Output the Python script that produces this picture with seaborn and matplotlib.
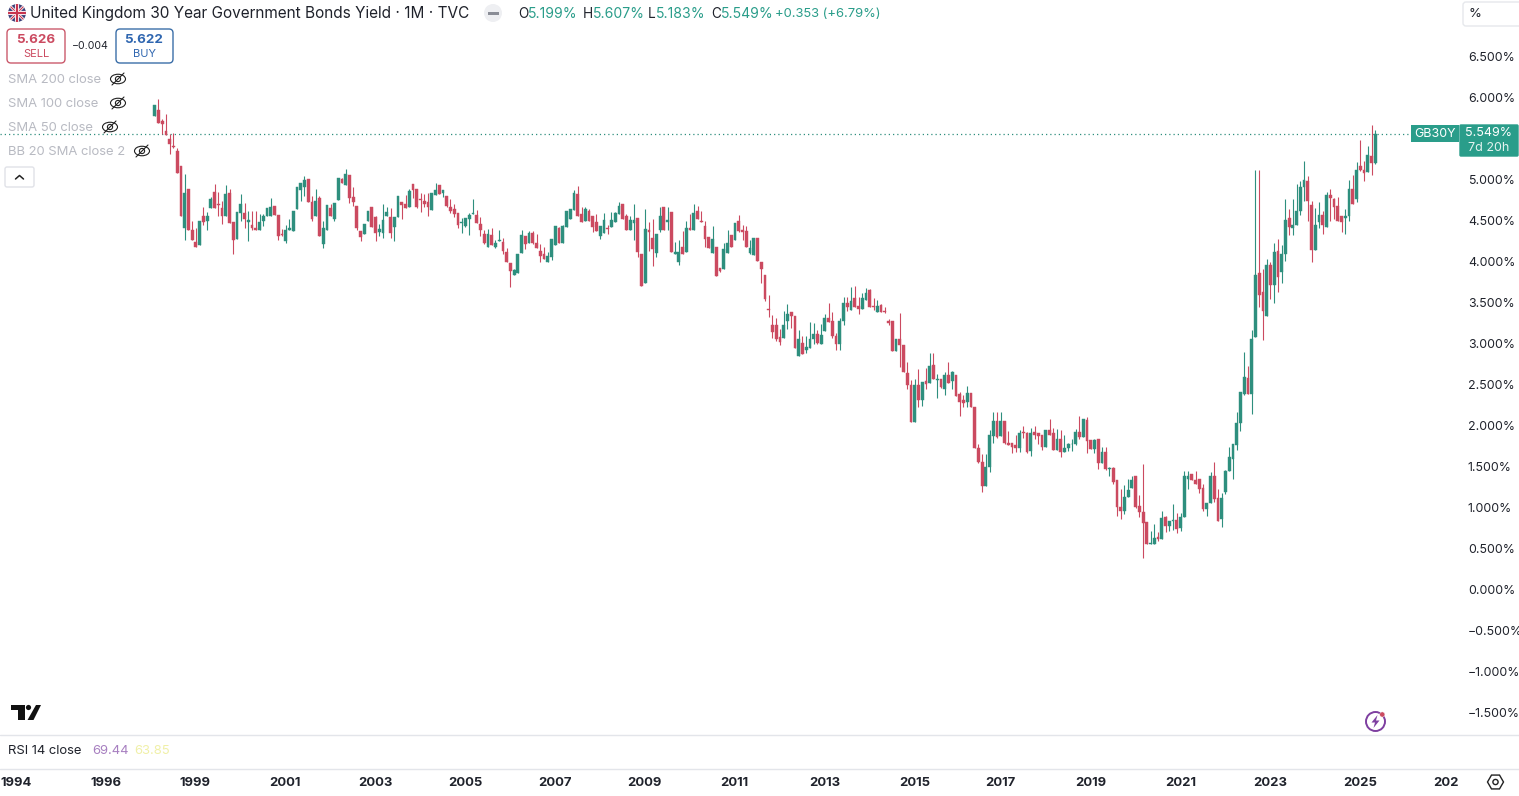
import numpy as np
import pandas as pd
import seaborn as sns
import matplotlib
matplotlib.use("Agg")
import matplotlib.pyplot as plt
from matplotlib.patches import Circle, FancyBboxPatch, Rectangle, Polygon, Ellipse, RegularPolygon
from matplotlib.transforms import ScaledTranslation

opens = [
5.78,5.85,5.71,5.59,5.50,5.41,5.35,5.17,4.41,4.89,
4.38,4.24,4.20,4.55,4.50,4.65,4.85,4.70,4.65,4.55,
4.84,4.48,4.28,4.59,4.59,4.48,4.45,4.41,4.39,4.49,
4.55,4.56,4.68,4.57,4.33,4.25,4.38,4.37,4.64,4.87,
4.91,5.01,4.72,4.55,4.77,4.21,4.39,4.65,4.52,4.75,
5.01,4.93,5.05,4.79,4.68,4.37,4.34,4.49,4.66,4.54,
4.36,4.35,4.55,4.54,4.42,4.54,4.72,4.70,4.66,4.94,
4.88,4.76,4.74,4.73,4.63,4.81,4.93,4.83,4.80,4.67,
4.64,4.59,4.47,4.43,4.52,4.58,4.57,4.46,4.33,4.18,
4.32,4.18,4.25,4.24,4.12,3.98,3.84,3.86,4.10,4.31,
4.23,4.35,4.23,4.13,4.09,3.99,4.05,4.20,4.41,4.23,
4.42,4.52,4.63,4.82,4.58,4.50,4.61,4.55,4.48,4.31,
4.35,4.41,4.42,4.48,4.58,4.70,4.56,4.38,4.47,4.53,
4.09,3.74,4.39,4.29,4.10,4.38,4.66,4.48,4.60,4.09,
4.00,4.18,4.11,4.41,4.39,4.62,4.49,4.43,4.30,4.10,
4.18,3.92,3.91,4.10,4.32,4.26,4.49,4.38,4.37,4.10,
4.08,4.29,4.00,3.84,3.42,3.22,3.23,3.08,3.07,3.27,
3.39,3.33,2.85,3.01,2.92,2.95,3.05,3.11,3.00,3.15,
3.31,3.28,3.09,3.00,3.27,3.50,3.41,3.55,3.46,3.42,
3.53,3.65,3.46,3.39,3.47,3.40,3.28,3.27,2.91,3.06,
2.98,2.64,2.50,2.04,2.50,2.31,2.54,2.52,2.74,2.56,
2.57,2.45,2.62,2.54,2.61,2.38,2.31,2.29,2.40,2.23,
1.72,1.55,1.26,1.49,1.87,2.05,1.87,2.05,1.79,1.79,
1.76,1.72,1.92,1.91,1.69,1.92,1.91,1.88,1.74,1.94,
1.91,1.70,1.83,1.68,1.72,1.77,1.77,1.92,1.86,2.07,
1.82,1.71,1.83,1.54,1.68,1.47,1.48,1.33,1.01,0.96,
1.13,1.24,1.38,1.02,0.95,0.82,0.56,0.56,0.64,0.61,
0.88,0.78,0.84,0.85,0.75,0.88,1.35,1.41,1.34,1.35,
1.24,0.98,1.05,1.39,1.12,0.86,1.19,1.44,1.59,1.76,
2.03,2.39,2.58,2.39,3.08,3.86,3.63,3.33,3.96,3.71,
4.13,3.87,4.09,4.53,4.41,4.44,4.62,4.91,4.98,4.69,
4.14,4.48,4.57,4.42,4.81,4.76,4.68,4.56,4.53,4.56,
4.88,4.76,5.16,5.11,5.09,5.29,5.199]
highs = [
5.91,5.98,5.74,5.80,5.56,5.57,5.39,5.17,5.07,4.89,
4.49,4.41,4.49,4.67,4.60,4.79,4.94,4.85,4.74,4.93,
4.88,4.48,4.60,4.82,4.71,4.62,4.61,4.62,4.58,4.58,
4.65,4.78,4.68,4.57,4.40,4.45,4.52,4.62,4.91,4.96,
5.04,5.01,4.80,4.88,4.80,4.49,4.69,4.70,4.71,5.02,
5.02,5.13,5.05,4.91,4.68,4.37,4.46,4.62,4.66,4.56,
4.46,4.70,4.67,4.65,4.54,4.80,4.72,4.81,4.89,4.94,
4.88,4.83,4.82,4.83,4.84,4.96,4.93,4.87,4.80,4.76,
4.70,4.59,4.53,4.53,4.59,4.76,4.63,4.54,4.38,4.40,
4.41,4.26,4.38,4.29,4.17,3.98,3.91,4.09,4.38,4.31,
4.37,4.37,4.33,4.21,4.18,4.11,4.27,4.43,4.42,4.44,
4.61,4.64,4.87,4.92,4.66,4.66,4.64,4.55,4.58,4.43,
4.59,4.44,4.60,4.60,4.72,4.70,4.58,4.56,4.70,4.53,
4.09,4.64,4.48,4.52,4.33,4.66,4.67,4.67,4.60,4.24,
4.26,4.37,4.50,4.58,4.70,4.68,4.62,4.50,4.30,4.43,
4.18,3.92,4.22,4.38,4.32,4.47,4.57,4.44,4.43,4.26,
4.29,4.29,4.00,3.84,3.59,3.35,3.31,3.18,3.40,3.48,
3.39,3.33,3.16,3.09,3.09,3.26,3.25,3.17,3.24,3.36,
3.50,3.38,3.13,3.31,3.57,3.57,3.69,3.70,3.57,3.61,
3.68,3.67,3.55,3.53,3.48,3.44,3.30,3.27,3.06,3.37,
2.98,2.77,2.55,2.57,2.69,2.53,2.70,2.89,2.89,2.63,
2.57,2.65,2.77,2.66,2.61,2.41,2.37,2.48,2.40,2.23,
1.77,1.65,1.65,1.94,2.16,2.16,2.16,2.05,1.93,1.79,
1.88,1.94,2.00,1.92,1.97,2.00,1.91,1.88,1.94,2.08,
1.97,1.96,1.94,1.89,1.79,1.83,1.96,2.11,2.08,2.10,
1.82,1.83,1.83,1.74,1.74,1.50,1.50,1.33,1.23,1.28,
1.35,1.39,1.38,1.15,1.53,0.82,0.71,0.80,0.70,0.96,
0.90,0.83,1.04,0.93,0.93,1.45,1.45,1.41,1.45,1.35,
1.29,1.05,1.43,1.56,1.22,1.18,1.46,1.74,1.77,2.16,
2.41,2.90,2.72,3.17,5.12,5.11,3.91,4.03,4.00,4.22,
4.28,4.20,4.76,4.64,4.76,4.95,4.98,5.22,5.04,4.74,
4.65,4.72,4.62,4.85,4.89,4.78,4.79,4.56,4.64,4.99,
5.06,5.21,5.48,5.23,5.41,5.66,5.607]
lows = [
5.78,5.69,5.56,5.54,5.31,5.39,5.08,4.55,4.26,4.39,
4.26,4.18,4.20,4.44,4.39,4.65,4.65,4.55,4.46,4.55,
4.47,4.09,4.28,4.50,4.41,4.25,4.39,4.39,4.39,4.43,
4.55,4.56,4.57,4.26,4.31,4.22,4.38,4.37,4.64,4.74,
4.80,4.72,4.49,4.55,4.31,4.17,4.39,4.55,4.49,4.75,
4.96,4.93,4.71,4.68,4.39,4.25,4.33,4.49,4.42,4.25,
4.31,4.29,4.55,4.29,4.25,4.54,4.52,4.65,4.66,4.78,
4.65,4.60,4.66,4.56,4.63,4.81,4.82,4.79,4.66,4.59,
4.54,4.41,4.35,4.42,4.32,4.58,4.47,4.31,4.21,4.18,
4.20,4.16,4.25,4.09,4.00,3.69,3.83,3.86,4.10,4.15,
4.22,4.21,4.17,3.99,4.03,3.99,4.02,4.20,4.23,4.22,
4.42,4.52,4.63,4.55,4.48,4.50,4.50,4.36,4.37,4.28,
4.35,4.33,4.42,4.48,4.58,4.52,4.39,4.38,4.26,4.05,
3.70,3.74,4.13,3.94,4.05,4.36,4.38,4.38,4.11,4.09,
3.96,4.09,4.11,4.39,4.39,4.52,4.48,4.18,4.17,4.10,
3.82,3.87,3.91,4.10,4.18,4.26,4.36,4.26,4.18,4.09,
4.08,4.01,3.74,3.52,3.32,3.07,3.03,2.98,3.07,3.18,
3.19,2.94,2.85,2.87,2.88,2.95,3.00,3.00,3.00,3.15,
3.26,3.07,2.92,2.92,3.22,3.40,3.41,3.45,3.36,3.42,
3.53,3.44,3.41,3.39,3.38,3.37,3.23,2.91,2.91,2.71,
2.65,2.44,2.04,2.04,2.22,2.24,2.44,2.52,2.57,2.33,
2.46,2.37,2.52,2.44,2.36,2.12,2.23,2.22,2.22,1.72,
1.54,1.19,1.26,1.43,1.79,1.85,1.87,1.77,1.76,1.66,
1.68,1.68,1.85,1.66,1.63,1.84,1.78,1.70,1.74,1.89,
1.70,1.70,1.61,1.68,1.69,1.69,1.76,1.84,1.86,1.66,
1.71,1.66,1.47,1.54,1.46,1.39,1.29,0.90,0.86,0.92,
1.13,1.24,1.00,0.88,0.39,0.55,0.55,0.55,0.59,0.61,
0.70,0.71,0.73,0.69,0.71,0.88,1.22,1.33,1.29,1.18,
0.96,0.90,1.05,1.07,0.83,0.76,1.17,1.44,1.35,1.70,
1.93,2.37,2.39,2.14,3.08,3.44,3.04,3.33,3.54,3.50,
3.63,3.74,4.01,4.32,4.32,4.44,4.57,4.74,4.49,4.00,
4.14,4.41,4.33,4.42,4.49,4.52,4.49,4.36,4.33,4.49,
4.70,4.72,5.10,4.98,5.09,5.05,5.183]
closes = [
5.91,5.69,5.68,5.54,5.43,5.40,5.08,4.55,4.83,4.39,
4.26,4.18,4.49,4.48,4.55,4.76,4.65,4.69,4.55,4.82,
4.47,4.26,4.60,4.70,4.52,4.51,4.41,4.39,4.48,4.55,
4.65,4.67,4.57,4.31,4.32,4.39,4.41,4.62,4.91,4.96,
5.00,4.72,4.52,4.74,4.31,4.41,4.69,4.55,4.71,5.02,
4.96,5.07,4.77,4.73,4.41,4.30,4.46,4.62,4.42,4.35,
4.40,4.51,4.60,4.35,4.54,4.80,4.69,4.65,4.86,4.87,
4.67,4.75,4.70,4.66,4.84,4.87,4.82,4.87,4.68,4.62,
4.58,4.45,4.48,4.53,4.57,4.59,4.47,4.38,4.23,4.34,
4.20,4.22,4.26,4.13,4.00,3.88,3.90,4.09,4.32,4.21,
4.35,4.22,4.17,4.07,4.03,4.07,4.27,4.43,4.23,4.43,
4.61,4.64,4.83,4.55,4.48,4.64,4.50,4.42,4.37,4.43,
4.51,4.40,4.51,4.59,4.68,4.52,4.39,4.51,4.51,4.12,
3.70,4.40,4.36,4.15,4.33,4.55,4.38,4.51,4.11,4.12,
4.11,4.09,4.41,4.39,4.59,4.52,4.48,4.27,4.17,4.28,
3.82,3.89,4.15,4.22,4.18,4.47,4.37,4.36,4.18,4.16,
4.29,4.01,3.91,3.54,3.41,3.14,3.05,3.02,3.23,3.36,
3.33,2.94,3.05,2.87,2.96,3.05,3.11,3.01,3.10,3.31,
3.26,3.09,3.00,3.27,3.50,3.45,3.52,3.45,3.42,3.55,
3.61,3.45,3.45,3.46,3.39,3.38,3.25,2.91,3.06,2.98,
2.65,2.50,2.04,2.49,2.31,2.53,2.51,2.72,2.57,2.57,
2.47,2.61,2.52,2.65,2.36,2.29,2.27,2.40,2.22,1.72,
1.55,1.26,1.50,1.88,2.05,1.86,2.05,1.79,1.76,1.74,
1.72,1.91,1.91,1.68,1.91,1.89,1.87,1.74,1.94,1.89,
1.70,1.83,1.68,1.73,1.77,1.78,1.92,1.86,2.08,1.81,
1.71,1.82,1.54,1.68,1.47,1.48,1.31,1.01,0.96,1.13,
1.21,1.33,1.01,0.94,0.81,0.55,0.57,0.63,0.62,0.87,
0.77,0.83,0.85,0.74,0.89,1.39,1.39,1.34,1.29,1.23,
0.98,1.05,1.38,1.10,0.84,1.12,1.45,1.61,1.77,2.03,
2.41,2.59,2.39,3.06,3.83,3.59,3.40,3.96,3.71,4.11,
3.81,4.09,4.51,4.42,4.45,4.61,4.91,4.99,4.74,4.14,
4.45,4.57,4.44,4.81,4.77,4.66,4.49,4.48,4.55,4.88,
4.70,5.12,5.11,5.08,5.30,5.20,5.549]

price_ticks = [6.5,6.0,5.0,4.5,4.0,3.5,3.0,2.5,2.0,1.5,1.0,0.5,0.0,-0.5,-1.0,-1.5]
year_labels = ["1994","1996","1999","2001","2003","2005","2007","2009","2011",
               "2013","2015","2017","2019","2021","2023","2025","202"]
year_pos = [-37.1,-13.0,10.8,34.8,58.9,82.9,106.9,130.9,154.9,
            179.0,203.0,226.0,250.0,274.0,298.0,322.0,344.9]

GREEN = "#2E8F7E"; RED = "#CB4A60"; BOX = "#2A9D8A"; INK = "#1F222B"; GREY = "#B8BAC2"; LINE = "#E3E5EA"

sns.set_theme(style="white")
plt.rcParams["font.family"] = ["Inter", "DejaVu Sans"]

W, H = 1519, 796
fig = plt.figure(figsize=(W/100, H/100), dpi=100, facecolor="white")
SPLIT = 734
ax = fig.add_axes([0, 1-SPLIT/H, 1459/W, SPLIT/H])
ax2 = fig.add_axes([0, 28/H, 1459/W, 34/H])

df = pd.DataFrame(dict(i=np.arange(len(closes)), o=opens, h=highs, l=lows, c=closes))
df["up"] = df.c >= df.o
up = df[df.up]; dn = df[~df.up]

ax.vlines(up.i, up.l, up.h, color=GREEN, lw=0.8, zorder=2)
ax.vlines(dn.i, dn.l, dn.h, color=RED, lw=0.8, zorder=2)
sns.barplot(x=up.i.values, y=(up.c-up.o).values, bottom=up.o.values, native_scale=True, ax=ax,
            color=GREEN, saturation=1, width=0.74, errorbar=None, edgecolor=GREEN, linewidth=0.3, zorder=3)
sns.barplot(x=dn.i.values, y=(dn.o-dn.c).values, bottom=dn.c.values, native_scale=True, ax=ax,
            color=RED, saturation=1, width=0.74, errorbar=None, edgecolor=RED, linewidth=0.3, zorder=3)

PX = 3.744; X0 = 154.7
ax.set_xlim((0-X0)/PX, (1459-X0)/PX)
ax.set_ylim((589.5-734)/82, 589.5/82)
ax.axhline(closes[-1], xmin=0, xmax=1411/1459, color="#2E8F7E", lw=0.9, ls=(0, (1, 2.4)), zorder=1)

ax.yaxis.tick_right()
ax.set_yticks(price_ticks)
ax.set_yticklabels([(f"{v:.3f}%" if v >= 0 else "\u2212" + f"{-v:.3f}%") for v in price_ticks],
                   fontsize=8.9, color=INK)
ax.tick_params(axis="y", length=0, pad=6.4)
ax.tick_params(axis="x", length=0, labelbottom=False)
ax.set_xlabel(""); ax.set_ylabel("")
sns.despine(ax=ax, left=True, right=True, top=True, bottom=True)
for lab in ax.get_yticklabels():
    lab.set_clip_on(False)

ax2.set_xlim(ax.get_xlim()); ax2.set_ylim(0, 1)
ax2.set_yticks([])
ax2.set_xticks(year_pos); ax2.set_xticklabels(year_labels, fontsize=9.4, fontweight="bold", color=INK)
ax2.tick_params(axis="x", length=0, pad=6.8)
sns.despine(ax=ax2, left=True, right=True, top=True, bottom=True)

# page chrome drawn in a pixel overlay
ov = fig.add_axes([0, 0, 1, 1], facecolor="none", zorder=5)
ov.set_xlim(0, W); ov.set_ylim(H, 0); ov.axis("off")

def T(x, y, s, size=9.4, color=INK, ha="left", weight="normal", **k):
    ov.text(x, y + 1.2, s, fontsize=size, color=color, ha=ha, va="center", fontweight=weight, **k)

ov.plot([0, W], [734.5, 734.5], color=LINE, lw=1)
ov.plot([0, W], [768.5, 768.5], color=LINE, lw=1)

# flag
flag = Circle((17, 13), 9, fc="#3A3F78", ec="none"); ov.add_patch(flag)
for (a, b, c, d, col, lw) in [(8,4,26,22,"white",2),(8,22,26,4,"white",2),(8,4,26,22,"#C8354F",0.8),(8,22,26,4,"#C8354F",0.8),
                              (17,4,17,22,"white",3),(8,13,26,13,"white",3),(17,4,17,22,"#C8354F",1.6),(8,13,26,13,"#C8354F",1.6)]:
    l, = ov.plot([a, c], [b, d], color=col, lw=lw, solid_capstyle="butt"); l.set_clip_path(flag)

T(30, 12.5, "United Kingdom 30 Year Government Bonds Yield \u00b7 1M \u00b7 TVC", size=11.05)
ov.add_patch(Circle((493, 13), 9, fc="#EEEFF2", ec="none"))
ov.add_patch(Rectangle((487.5, 11.5), 11, 3, fc="#8A8D96", ec="none"))
for x, s, col, fs in [(518,"O",INK,9.8),(528,"5.199%",BOX,10.1),(583,"H",INK,9.8),(593,"5.607%",BOX,10.1),(648,"L",INK,9.8),
                      (656,"5.183%",BOX,10.1),(711,"C",INK,9.8),(721,"5.549%",BOX,10.1),(775,"+0.353 (+6.79%)",BOX,9.3)]:
    T(x, 12.5, s, size=fs, color=col)

def box(x0, y0, x1, y1, ec, fc="white", r=4, lw=1):
    ov.add_patch(FancyBboxPatch((x0+r, y0+r), x1-x0-2*r, y1-y0-2*r, boxstyle=f"round,pad={r}", fc=fc, ec=ec, lw=lw))

box(7, 29, 65, 63, "#CB5A6C")
T(36, 38.5, "5.626", size=9.6, color=RED, ha="center", weight="bold")
T(36, 52.5, "SELL", size=8, color=RED, ha="center")
T(90, 45, "\u22120.004", size=7.6, ha="center")
box(116, 29, 173, 63, "#3B6EA8")
T(144, 38.5, "5.622", size=9.6, color="#2F66B0", ha="center", weight="bold")
T(144, 52.5, "BUY", size=8, color="#2F66B0", ha="center")

def eye(x, y):
    ov.add_patch(Ellipse((x, y), 15, 9.5, fc="none", ec="#222", lw=0.8))
    ov.add_patch(Circle((x, y), 2.6, fc="none", ec="#222", lw=0.8))
    ov.plot([x-6, x+6], [y+6, y-6], color="#222", lw=0.8)

for y, s, ex in [(78.5,"SMA 200 close",118),(102.5,"SMA 100 close",118),(126.5,"SMA 50 close",110),(150.5,"BB 20 SMA close 2",142)]:
    T(8, y, s, size=9.4, color=GREY)
    eye(ex, y + 0.5)
box(5, 167, 34, 187, "#E0E2E8", r=2)
ov.plot([15.5, 19.5, 23.5], [179, 175.5, 179], color="#222", lw=1.1)

box(1463, 2, 1530, 26, "#E6E8EC", r=3)
T(1468, 13, "%", size=9.4)
ov.add_patch(Rectangle((1411, 125), 48, 17, fc=BOX, ec="none"))
T(1435, 132.5, "GB30Y", size=9, color="white", ha="center")
box(1460, 125, 1518, 156, BOX, fc=BOX, r=1)
T(1489, 132.2, "5.549%", size=9, color="white", ha="center")
T(1489, 146.8, "7d 20h", size=9, color="#E4F3F0", ha="center")

# TV logo
ov.add_patch(Polygon([(11,705),(25,705),(25,720),(18.3,720),(18.3,710),(11,710)], fc="#111", ec="none"))
ov.add_patch(Circle((28.5,707.5), 2.6, fc="#111", ec="none"))
ov.add_patch(Polygon([(36,705),(41,705),(33.5,720),(27.5,720)], fc="#111", ec="none"))

# bolt icon
ov.add_patch(Circle((1375.5,721.5), 9.5, fc="white", ec="#7E3FA0", lw=1.4))
ov.add_patch(Polygon([(1377.5,715),(1371.5,722.5),(1375,722.5),(1373.5,728),(1379.5,720.5),(1376,720.5)], fc="#7E3FA0", ec="none"))
ov.add_patch(Circle((1382.3,714.5), 2.6, fc="#CB4A60", ec="white", lw=0.3))

# RSI
T(8, 750, "RSI 14 close", size=9.4)
T(92, 750, "69.44", size=9.4, color="#A77FC0")
T(134, 750, "63.85", size=9.4, color="#F0F0A8")

# settings hexagon
ov.add_patch(RegularPolygon((1495.5,782), 6, radius=8, orientation=np.pi/6, fc="none", ec="#222", lw=1))
ov.add_patch(Circle((1495.5,782), 2.6, fc="none", ec="#222", lw=1))

fig.savefig("out.png", dpi=100)
